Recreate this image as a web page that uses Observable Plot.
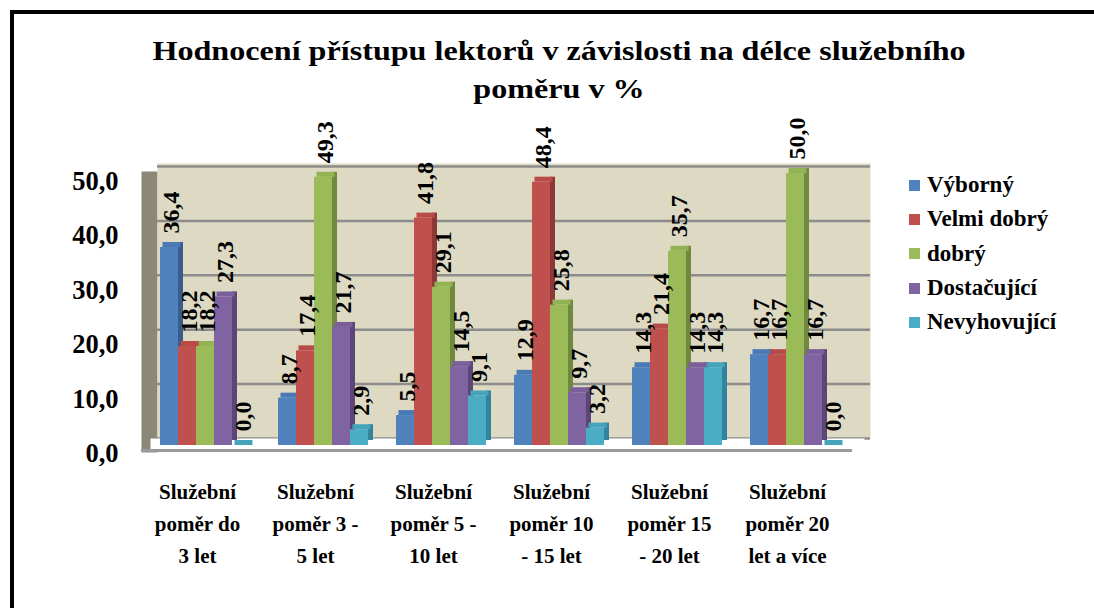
<!DOCTYPE html>
<html>
<head>
<meta charset="utf-8">
<script src="https://cdn.jsdelivr.net/npm/d3@7"></script>
<script src="https://cdn.jsdelivr.net/npm/@observablehq/plot@0.6"></script>
<style>
  html, body { margin: 0; padding: 0; background: #fff; }
  body { width: 1094px; height: 608px; overflow: hidden; position: relative; font-family: "Liberation Serif", Tinos, "Times New Roman", "DejaVu Serif", serif; }
  #border { position: absolute; left: 10px; top: 10px; width: 1110px; height: 630px; border: 4px solid #000; box-sizing: border-box; }
  #chart { position: absolute; left: 0; top: 0; }
  #title { position: absolute; left: 0; top: 32px; width: 1118px; text-align: center; font-weight: bold; font-size: 27px; line-height: 38px; color: #000; transform: scaleX(1.19); transform-origin: 559px 0; }
  #legend { position: absolute; left: 909px; top: 168px; }
  .item { height: 34.3px; display: flex; align-items: center; font-weight: bold; font-size: 23px; white-space: nowrap; }
  .sw { width: 11px; height: 11px; margin-right: 7px; display: inline-block; }
</style>
</head>
<body>
<div id="chart"></div>
<div id="title">Hodnocení přístupu lektorů v závislosti na délce služebního<br>poměru v %</div>
<div id="legend"></div>
<div id="border"></div>
<script>
// ---- data ----
const categories = [
  "Služební poměr do 3 let",
  "Služební poměr 3 - 5 let",
  "Služební poměr 5 - 10 let",
  "Služební poměr 10 - 15 let",
  "Služební poměr 15 - 20 let",
  "Služební poměr 20 let a více"
];
const categoryLabels = [
  "Služební\npoměr do\n3 let",
  "Služební\npoměr 3 -\n5 let",
  "Služební\npoměr 5 -\n10 let",
  "Služební\npoměr 10\n- 15 let",
  "Služební\npoměr 15\n- 20 let",
  "Služební\npoměr 20\nlet a více"
];
const seriesNames = ["Výborný", "Velmi dobrý", "dobrý", "Dostačující", "Nevyhovující"];
const vyborny      = [36.4,  8.7,  5.5, 12.9, 14.3, 16.7];
const velmiDobry   = [18.2, 17.4, 41.8, 48.4, 21.4, 16.7];
const dobry        = [18.2, 49.3, 29.1, 25.8, 35.7, 50.0];
const dostacujici  = [27.3, 21.7, 14.5,  9.7, 14.3, 16.7];
const nevyhovujici = [ 0.0,  2.9,  9.1,  3.2, 14.3,  0.0];
const yTicks = [0, 10, 20, 30, 40, 50];

const seriesValues = [vyborny, velmiDobry, dobry, dostacujici, nevyhovujici];
const colors = ["#4f81bd", "#c0504d", "#9bbb59", "#8064a2", "#4bacc6"];
const topColors = ["#4a7ab3", "#b84b48", "#93b254", "#7a5f9a", "#46a3bc"];
const sideColors = ["#385d8a", "#8c3836", "#6f8a3e", "#5b4677", "#31849b"];

const fmt = v => v.toFixed(1).replace(".", ",");
const FONT = "'Liberation Serif', Tinos, 'Times New Roman', 'DejaVu Serif', serif";

const W = 1094, H = 608;
const mL = 148, mR = 242, mT = 173, mB = 163;
const plotW = W - mL - mR, plotH = H - mT - mB;
const bw = 18; // bar width within the band (band = 90)
const depth = 5;

const marks = [];
// gray side wall
marks.push(Plot.frame({fill: "#8b8878", stroke: "none", insetLeft: -7, insetRight: plotW - 9, insetTop: -2, insetBottom: -7}));
// beige back wall
marks.push(Plot.frame({fill: "#ddd9c3", stroke: "none", insetLeft: 9, insetRight: -18, insetTop: -10, insetBottom: 7}));
// gridlines on back wall
marks.push(Plot.ruleY(yTicks, {y: d => d, stroke: "#8c8c8c", strokeWidth: 2.5, dy: -7, insetLeft: 9, insetRight: -18}));
// floor
marks.push(Plot.frame({fill: "#ffffff", stroke: "none", insetLeft: 2, insetRight: -12, insetTop: plotH - 7, insetBottom: -5}));
marks.push(Plot.ruleY([0], {stroke: "#9a9a9a", strokeWidth: 3, dy: 5, insetLeft: -7, insetRight: 0}));

const rows = seriesValues.map((vals, i) => vals.map((v, j) => ({category: categories[j], value: v, series: seriesNames[i]})));

// side faces (3D depth)
rows.forEach((data, i) => {
  marks.push(Plot.barY(data, {x: "category", y: "value", fill: sideColors[i],
    insetLeft: i * bw + bw, insetRight: 90 - (i * bw + bw + depth), dy: -depth}));
});
// top faces
rows.forEach((data, i) => {
  marks.push(Plot.barY(data, {x: "category", y1: "value", y2: "value", fill: topColors[i],
    insetTop: -depth, insetLeft: i * bw + depth / 2, insetRight: 90 - (i * bw + bw + depth / 2)}));
});
// front faces
rows.forEach((data, i) => {
  marks.push(Plot.barY(data, {x: "category", y: "value", fill: colors[i],
    insetLeft: i * bw, insetRight: 90 - (i * bw + bw)}));
});
// value labels
rows.forEach((data, i) => {
  marks.push(Plot.text(data, {x: "category", y: "value", text: d => fmt(d.value), rotate: -90,
    textAnchor: "start", dx: i * bw + 9 - 45 + 2, dy: -14, fontSize: 24, fontWeight: "bold", fill: "#000"}));
});
// y tick labels
marks.push(Plot.text(yTicks, {y: d => d, text: d => fmt(d), frameAnchor: "left", textAnchor: "end",
  dx: -30, dy: 8, fontSize: 26.5, fontWeight: "bold", fill: "#000"}));
// category labels
marks.push(Plot.text(categories, {x: d => d, text: (d, i) => categoryLabels[i], frameAnchor: "bottom",
  lineAnchor: "top", lineHeight: 1.52, dx: -8, dy: 31, fontSize: 21, fontWeight: "bold", fill: "#000"}));

const chart = Plot.plot({
  width: W, height: H,
  marginLeft: mL, marginRight: mR, marginTop: mT, marginBottom: mB,
  style: {fontFamily: FONT, background: "transparent", overflow: "visible"},
  x: {domain: categories, paddingInner: 0.237, paddingOuter: 0.1, axis: null},
  y: {domain: [0, 50], axis: null},
  marks
});
document.getElementById("chart").appendChild(chart);

const legend = document.getElementById("legend");
seriesNames.forEach((name, i) => {
  const row = document.createElement("div");
  row.className = "item";
  const sw = document.createElement("span");
  sw.className = "sw";
  sw.style.background = colors[i];
  row.appendChild(sw);
  row.appendChild(document.createTextNode(name));
  legend.appendChild(row);
});
</script>
</body>
</html>
